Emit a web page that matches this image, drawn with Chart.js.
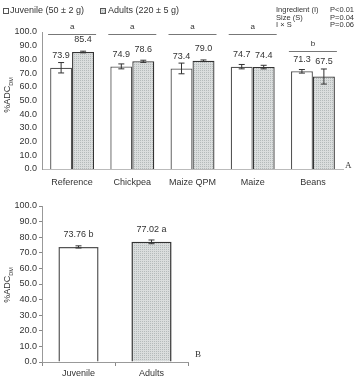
<!DOCTYPE html>
<html>
<head>
<meta charset="utf-8">
<script src="https://cdn.jsdelivr.net/npm/chart.js@4.4.1/dist/chart.umd.min.js"></script>
<style>
  body { margin: 0; background: #fff; }
  #wrap { position: relative; width: 355px; height: 379px; }
  #top { position: absolute; left: 0; top: 0; }
  #bottom { position: absolute; left: 0; top: 195px; }
</style>
</head>
<body>
<div id="wrap">
  <canvas id="top" width="355" height="195"></canvas>
  <canvas id="bottom" width="355" height="184"></canvas>
</div>
<script>
// panel A
const categories = ['Reference', 'Chickpea', 'Maize QPM', 'Maize', 'Beans'];
const juvenile = [73.9, 74.9, 73.4, 74.7, 71.3];
const adults = [85.4, 78.6, 79.0, 74.4, 67.5];
const juvenileErr = [3.8, 1.8, 3.9, 1.6, 1.3];
const adultsErr = [0.6, 0.8, 0.6, 1.3, 5.5];
const groupLetters = ['a', 'a', 'a', 'a', 'b'];
const groupLetterLevel = [98.5, 98.5, 98.5, 98.5, 86];
const statsNames = ['Ingredient (I)', 'Size (S)', 'I \u00d7 S'];
const statsP = ['P<0.01', 'P=0.04', 'P=0.06'];

// panel B
const sizeCategories = ['Juvenile', 'Adults'];
const sizeMeans = [73.76, 77.02];
const sizeErr = [0.7, 1.2];
const sizeLetters = ['b', 'a'];

const FONT = '"Liberation Sans", Arial, sans-serif';
const TEXT = '#333';

function makePattern() {
    const c = document.createElement('canvas');
    c.width = 2;
    c.height = 2;
    const g = c.getContext('2d');
    g.fillStyle = '#dadddd';
    g.fillRect(0, 0, 2, 2);
    g.fillStyle = '#b4baba';
    g.fillRect(0, 0, 1, 1);
    return g.createPattern(c, 'repeat');
}
const dots = makePattern();

const errorBars = {
    id: 'errorBars',
    afterDatasetsDraw(chart) {
        const ctx = chart.ctx;
        const y = chart.scales.y;
        chart.data.datasets.forEach((ds, di) => {
            const meta = chart.getDatasetMeta(di);
            meta.data.forEach((bar, i) => {
                const v = ds.data[i], e = ds.errors[i];
                const top = y.getPixelForValue(v + e);
                const bot = y.getPixelForValue(v - e);
                ctx.save();
                ctx.strokeStyle = '#333';
                ctx.lineWidth = 1;
                ctx.beginPath();
                ctx.moveTo(bar.x, top); ctx.lineTo(bar.x, bot);
                ctx.moveTo(bar.x - 3, top); ctx.lineTo(bar.x + 3, top);
                ctx.moveTo(bar.x - 3, bot); ctx.lineTo(bar.x + 3, bot);
                ctx.stroke();
                ctx.restore();

                // value label
                const ly = Math.min(y.getPixelForValue(v) - 12, top - 7);
                ctx.save();
                ctx.fillStyle = TEXT;
                ctx.font = '9px ' + FONT;
                ctx.textAlign = 'center';
                ctx.textBaseline = 'middle';
                ctx.fillText(ds.valueLabels[i], bar.x, ly);
                ctx.restore();
            });
        });
    }
};

function drawYTitle(ctx, x, y) {
    ctx.save();
    ctx.translate(x, y);
    ctx.rotate(-Math.PI / 2);
    ctx.fillStyle = TEXT;
    ctx.textBaseline = 'middle';
    const main = '%ADC';
    ctx.font = '9px ' + FONT;
    const w1 = ctx.measureText(main).width;
    ctx.font = '5.5px ' + FONT;
    const w2 = ctx.measureText('DM').width;
    const start = -(w1 + w2) / 2;
    ctx.font = '9px ' + FONT;
    ctx.textAlign = 'left';
    ctx.fillText(main, start, 0);
    ctx.font = '5.5px ' + FONT;
    ctx.fillText('DM', start + w1, 3);
    ctx.restore();
}

const panelA = {
    id: 'panelA',
    afterDraw(chart) {
        const ctx = chart.ctx;
        const x = chart.scales.x, y = chart.scales.y;

        // significance lines
        ctx.save();
        ctx.strokeStyle = '#777';
        ctx.lineWidth = 1;
        ctx.fillStyle = TEXT;
        ctx.font = '8px ' + FONT;
        ctx.textAlign = 'center';
        ctx.textBaseline = 'middle';
        categories.forEach((c, i) => {
            const cx = x.getPixelForValue(i);
            const ly = Math.round(y.getPixelForValue(groupLetterLevel[i])) + 0.5;
            ctx.beginPath();
            ctx.moveTo(cx - 24, ly);
            ctx.lineTo(cx + 24, ly);
            ctx.stroke();
            ctx.fillText(groupLetters[i], cx, ly - 8);
        });
        ctx.restore();

        // legend
        ctx.save();
        ctx.strokeStyle = '#555';
        ctx.lineWidth = 1;
        ctx.fillStyle = '#fff';
        ctx.fillRect(3.5, 8.5, 5, 5);
        ctx.strokeRect(3.5, 8.5, 5, 5);
        ctx.fillStyle = dots;
        ctx.fillRect(100.5, 8.5, 5, 5);
        ctx.strokeRect(100.5, 8.5, 5, 5);
        ctx.fillStyle = TEXT;
        ctx.font = '9px ' + FONT;
        ctx.textBaseline = 'middle';
        ctx.textAlign = 'left';
        ctx.fillText('Juvenile (50 \u00b1 2 g)', 10, 11);
        ctx.fillText('Adults (220 \u00b1 5 g)', 108, 11);

        // stats
        ctx.font = '7.5px ' + FONT;
        statsNames.forEach((s, i) => {
            ctx.textAlign = 'left';
            ctx.fillText(s, 276, 10 + i * 7.5);
            ctx.textAlign = 'right';
            ctx.fillText(statsP[i], 354, 10 + i * 7.5);
        });

        // panel letter
        ctx.font = '9px "Liberation Serif", serif';
        ctx.textAlign = 'left';
        ctx.fillText('A', 345, 166);
        ctx.restore();

        drawYTitle(ctx, 8, 95);
    }
};

const panelB = {
    id: 'panelB',
    afterDraw(chart) {
        const ctx = chart.ctx;
        ctx.save();
        ctx.fillStyle = TEXT;
        ctx.font = '9px "Liberation Serif", serif';
        ctx.textBaseline = 'middle';
        ctx.fillText('B', 195, 160);
        ctx.restore();
        drawYTitle(ctx, 8, 90);
    }
};

function yScale(withTicks) {
    return {
        min: 0,
        max: 100,
        ticks: {
            stepSize: 10,
            autoSkip: false,
            padding: withTicks ? 2 : 5,
            color: TEXT,
            font: { family: FONT, size: 9 },
            callback: v => v.toFixed(1)
        },
        grid: {
            display: withTicks,
            drawOnChartArea: false,
            drawTicks: withTicks,
            tickLength: 3,
            color: '#888'
        },
        border: { display: true, color: '#999', width: 1 },
        afterFit(scale) { scale.width = 42; }
    };
}

new Chart(document.getElementById('top'), {
    type: 'bar',
    data: {
        labels: categories,
        datasets: [
            {
                label: 'Juvenile (50 ± 2 g)',
                data: juvenile,
                errors: juvenileErr,
                valueLabels: juvenile.map(v => v.toFixed(1)),
                backgroundColor: '#fff',
                borderColor: '#555',
                borderWidth: 1.3,
                categoryPercentage: 0.73,
                barPercentage: 1
            },
            {
                label: 'Adults (220 ± 5 g)',
                data: adults,
                errors: adultsErr,
                valueLabels: adults.map(v => v.toFixed(1)),
                backgroundColor: dots,
                borderColor: '#333',
                borderWidth: 1.3,
                categoryPercentage: 0.73,
                barPercentage: 1
            }
        ]
    },
    options: {
        responsive: false,
        animation: false,
        layout: { padding: { top: 32, right: 12, left: 0, bottom: 0 } },
        plugins: { legend: { display: false }, tooltip: { enabled: false } },
        scales: {
            x: {
                ticks: { padding: 8, color: TEXT, font: { family: FONT, size: 9 }, maxRotation: 0 },
                grid: { display: false, drawTicks: false },
                border: { display: true, color: '#bbb', width: 1 },
                afterFit(scale) { scale.height = 26; }
            },
            y: yScale(false)
        }
    },
    plugins: [errorBars, panelA]
});

new Chart(document.getElementById('bottom'), {
    type: 'bar',
    data: {
        labels: sizeCategories,
        datasets: [
            {
                data: sizeMeans,
                errors: sizeErr,
                valueLabels: sizeMeans.map((v, i) => v.toFixed(2) + ' ' + sizeLetters[i]),
                backgroundColor: ['#fff', dots],
                borderColor: ['#555', '#333'],
                borderWidth: 1.5,
                categoryPercentage: 1,
                barPercentage: 0.55
            }
        ]
    },
    options: {
        responsive: false,
        animation: false,
        layout: { padding: { top: 11, right: 167, left: 0, bottom: 0 } },
        plugins: { legend: { display: false }, tooltip: { enabled: false } },
        scales: {
            x: {
                ticks: { padding: 2, color: TEXT, font: { family: FONT, size: 9 }, maxRotation: 0 },
                grid: { display: true, drawOnChartArea: false, tickLength: 4, color: '#888' },
                border: { display: true, color: '#999', width: 1 },
                afterFit(scale) { scale.height = 17; }
            },
            y: yScale(true)
        }
    },
    plugins: [errorBars, panelB]
});
</script>
</body>
</html>
